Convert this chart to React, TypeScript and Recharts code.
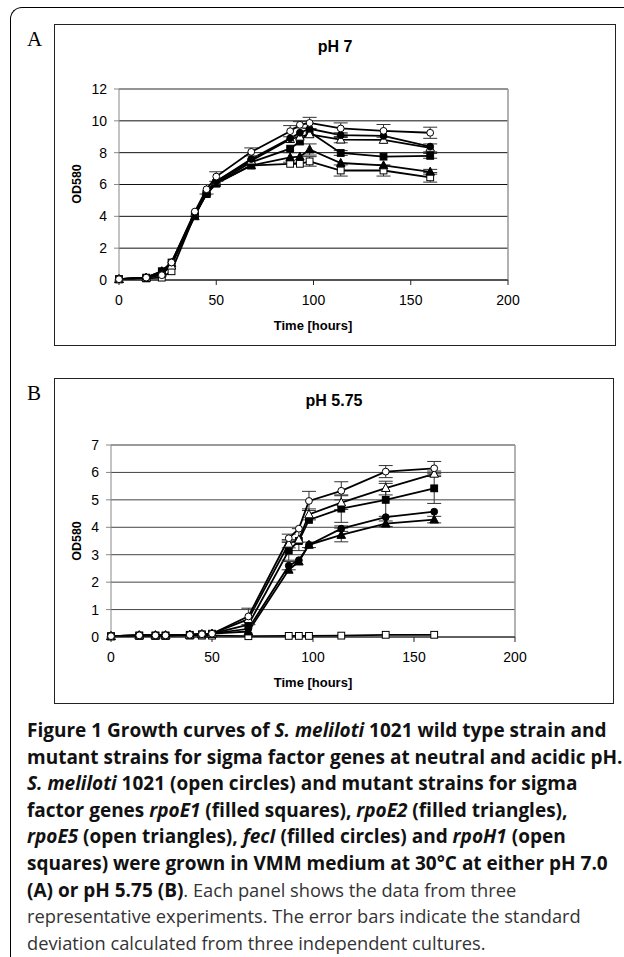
import React from 'react';
import { LineChart, Line, XAxis, YAxis, CartesianGrid, ErrorBar, ReferenceLine } from 'recharts';

const hours = [0, 14, 22, 27, 39, 45, 50, 68, 88, 93, 98, 114, 136, 160];
const xTicks = [0, 50, 100, 150, 200];

// pH 7 (panel A)
const wt7 = [0.05, 0.15, 0.3, 1.1, 4.3, 5.7, 6.5, 8.05, 9.35, 9.75, 9.87, 9.52, 9.37, 9.25];
const rpoE1_7 = [0.05, 0.15, 0.55, 1.1, 4.1, 5.4, 6.1, 7.4, 8.25, 8.7, 9.3, 7.98, 7.75, 7.8];
const rpoE2_7 = [0.05, 0.15, 0.55, 1.05, 4.0, 5.5, 6.1, 7.2, 7.7, 7.75, 8.2, 7.35, 7.2, 6.8];
const rpoE5_7 = [0.05, 0.15, 0.4, 0.9, 4.2, 5.6, 6.2, 7.5, 8.85, 9.0, 9.15, 8.82, 8.8, 8.3];
const fecI_7 = [0.05, 0.15, 0.55, 1.1, 4.2, 5.5, 6.2, 7.6, 8.9, 9.25, 9.5, 9.1, 9.05, 8.38];
const rpoH1_7 = [0.05, 0.1, 0.15, 0.55, 4.1, 5.4, 6.05, 7.2, 7.3, 7.3, 7.45, 6.88, 6.88, 6.45];

const wt7Err = [0, 0, 0, 0, 0, 0.3, 0.3, 0.25, 0.35, 0.2, 0.35, 0.35, 0.4, 0.35];
const rpoE1_7Err = [0, 0, 0, 0, 0, 0, 0, 0, 0, 0, 0, 0.15, 0, 0.15];
const rpoE2_7Err = [0, 0, 0, 0, 0, 0, 0, 0, 0.3, 0, 0.35, 0, 0, 0.15];
const rpoE5_7Err = [0, 0, 0, 0, 0, 0, 0, 0, 0, 0, 0, 0.2, 0, 0.25];
const fecI_7Err = [0, 0, 0, 0, 0, 0, 0, 0, 0, 0, 0, 0.15, 0, 0];
const rpoH1_7Err = [0, 0, 0, 0, 0, 0, 0, 0, 0, 0, 0.3, 0.35, 0.35, 0.3];

// pH 5.75 (panel B)
const wt5 = [0.03, 0.06, 0.06, 0.06, 0.08, 0.1, 0.12, 0.75, 3.6, 3.95, 4.96, 5.33, 6.03, 6.15];
const rpoE1_5 = [0.03, 0.06, 0.06, 0.06, 0.08, 0.1, 0.12, 0.45, 3.15, 3.5, 4.27, 4.68, 5.0, 5.42];
const rpoE2_5 = [0.03, 0.06, 0.06, 0.06, 0.08, 0.1, 0.12, 0.2, 2.45, 2.75, 3.36, 3.72, 4.13, 4.28];
const rpoE5_5 = [0.03, 0.06, 0.06, 0.06, 0.08, 0.1, 0.12, 0.65, 3.4, 3.55, 4.47, 4.9, 5.43, 5.95];
const fecI_5 = [0.03, 0.06, 0.06, 0.06, 0.08, 0.1, 0.12, 0.3, 2.6, 2.8, 3.36, 3.95, 4.37, 4.57];
const rpoH1_5 = [0.02, 0.04, 0.04, 0.04, 0.05, 0.05, 0.05, 0.03, 0.04, 0.04, 0.04, 0.05, 0.08, 0.08];

const wt5Err = [0, 0, 0, 0, 0, 0, 0, 0.3, 0.15, 0, 0.35, 0.33, 0.22, 0.25];
const rpoE1_5Err = [0, 0, 0, 0, 0, 0, 0, 0, 0.35, 0, 0, 0.5, 0.6, 0.55];
const rpoE2_5Err = [0, 0, 0, 0, 0, 0, 0, 0, 0, 0, 0, 0.25, 0.1, 0.12];
const rpoE5_5Err = [0, 0, 0, 0, 0, 0, 0, 0, 0.15, 0.4, 0.2, 0.25, 0.25, 0.1];
const fecI_5Err = [0, 0, 0, 0, 0, 0, 0, 0, 0.15, 0, 0.1, 0.1, 0, 0];
const rpoH1_5Err = [0, 0, 0, 0, 0, 0, 0, 0, 0, 0, 0, 0, 0, 0];

type Shape = 'circle' | 'square' | 'triangle';

const series: { key: string; shape: Shape; filled: boolean }[] = [
  { key: 'rpoH1', shape: 'square', filled: false },
  { key: 'rpoE2', shape: 'triangle', filled: true },
  { key: 'rpoE1', shape: 'square', filled: true },
  { key: 'rpoE5', shape: 'triangle', filled: false },
  { key: 'fecI', shape: 'circle', filled: true },
  { key: 'wt', shape: 'circle', filled: false },
];

const buildRows = (cols: Record<string, number[]>) =>
  hours.map((t, i) => {
    const row: Record<string, number> = { t };
    Object.keys(cols).forEach((k) => {
      row[k] = cols[k][i];
    });
    return row;
  });

const dataA = buildRows({
  wt: wt7, rpoE1: rpoE1_7, rpoE2: rpoE2_7, rpoE5: rpoE5_7, fecI: fecI_7, rpoH1: rpoH1_7,
  wtErr: wt7Err, rpoE1Err: rpoE1_7Err, rpoE2Err: rpoE2_7Err, rpoE5Err: rpoE5_7Err, fecIErr: fecI_7Err, rpoH1Err: rpoH1_7Err,
});

const dataB = buildRows({
  wt: wt5, rpoE1: rpoE1_5, rpoE2: rpoE2_5, rpoE5: rpoE5_5, fecI: fecI_5, rpoH1: rpoH1_5,
  wtErr: wt5Err, rpoE1Err: rpoE1_5Err, rpoE2Err: rpoE2_5Err, rpoE5Err: rpoE5_5Err, fecIErr: fecI_5Err, rpoH1Err: rpoH1_5Err,
});

const marker = (shape: Shape, filled: boolean, name: string) => (p: any) => {
  const { cx, cy, index } = p;
  const key = `${name}-${index}`;
  if (cx == null || cy == null) return <g key={key} />;
  const fill = filled ? '#000' : '#fff';
  if (shape === 'circle') {
    return <circle key={key} cx={cx} cy={cy} r={3.4} fill={fill} stroke="#000" strokeWidth={1} />;
  }
  if (shape === 'square') {
    return <rect key={key} x={cx - 3.4} y={cy - 3.4} width={6.8} height={6.8} fill={fill} stroke="#000" strokeWidth={1} />;
  }
  return (
    <polygon
      key={key}
      points={`${cx},${cy - 4.6} ${cx + 4.3},${cy + 3.4} ${cx - 4.3},${cy + 3.4}`}
      fill={fill}
      stroke="#000"
      strokeWidth={1}
    />
  );
};

const tickStyle = { fontFamily: 'Liberation Sans, Arial, sans-serif', fontSize: 14, fill: '#000' };
const boldLabel: React.CSSProperties = {
  position: 'absolute',
  fontFamily: 'Liberation Sans, Arial, sans-serif',
  fontWeight: 'bold',
  color: '#000',
  whiteSpace: 'nowrap',
};

interface PanelProps {
  letter: string;
  title: string;
  data: Record<string, number>[];
  yMax: number;
  yTicks: number[];
  box: { left: number; top: number; width: number; height: number };
  margin: { top: number; right: number; bottom: number; left: number };
  plot: { left: number; right: number; top: number; bottom: number };
  gridColor: string;
}

const Panel = ({ letter, title, data, yMax, yTicks, box, margin, plot, gridColor }: PanelProps) => {
  const cx = (plot.left + plot.right) / 2;
  const cy = (plot.top + plot.bottom) / 2;
  return (
    <>
      <div
        style={{
          position: 'absolute',
          left: 27,
          top: box.top + 3,
          fontFamily: 'Liberation Serif, Times New Roman, serif',
          fontSize: 21,
          lineHeight: '24px',
          color: '#000',
        }}
      >
        {letter}
      </div>
      <div
        style={{
          position: 'absolute',
          left: box.left,
          top: box.top,
          width: box.width,
          height: box.height,
          boxSizing: 'border-box',
          border: '1.5px solid #222',
        }}
      />
      <div style={{ position: 'absolute', left: box.left, top: box.top }}>
        <LineChart width={box.width} height={box.height} data={data} margin={margin}>
          <CartesianGrid vertical={false} stroke={gridColor} strokeOpacity={1} />
          <ReferenceLine y={yMax} stroke="#999" strokeWidth={1.5} />
          <ReferenceLine x={200} stroke="#999" strokeWidth={1.5} />
          <XAxis
            dataKey="t"
            type="number"
            domain={[0, 200]}
            ticks={xTicks}
            stroke="#222"
            tickSize={5}
            tickMargin={10}
            tick={tickStyle}
            height={30}
          />
          <YAxis
            type="number"
            domain={[0, yMax]}
            ticks={yTicks}
            stroke="#888"
            tickSize={5}
            tickMargin={7}
            tick={tickStyle}
            width={40}
            interval={0}
          />
          {series.map((s) => (
            <Line
              key={s.key}
              dataKey={s.key}
              type="linear"
              stroke="#000"
              strokeWidth={1.8}
              dot={marker(s.shape, s.filled, s.key)}
              activeDot={false}
              isAnimationActive={false}
            >
              <ErrorBar dataKey={`${s.key}Err`} direction="y" width={7} stroke="#333" strokeWidth={1} />
            </Line>
          ))}
        </LineChart>
      </div>
      <div
        style={{
          ...boldLabel,
          left: box.left,
          width: box.width,
          top: box.top + 14,
          textAlign: 'center',
          fontSize: 16,
          lineHeight: '18px',
        }}
      >
        {title}
      </div>
      <div
        style={{
          ...boldLabel,
          left: 77 - 30,
          top: cy - 8,
          width: 60,
          textAlign: 'center',
          fontSize: 12.5,
          lineHeight: '16px',
          transform: 'rotate(-90deg)',
        }}
      >
        OD580
      </div>
      <div
        style={{
          ...boldLabel,
          left: cx - 60,
          width: 120,
          top: plot.bottom + 39,
          textAlign: 'center',
          fontSize: 13,
          lineHeight: '16px',
        }}
      >
        Time [hours]
      </div>
    </>
  );
};

const bold: React.CSSProperties = { whiteSpace: 'nowrap', fontWeight: 'bold', fontSize: 19, color: '#111' };
const plain: React.CSSProperties = { whiteSpace: 'nowrap', fontWeight: 'normal', fontSize: 18.3, color: '#333' };

const App = () => {
  return (
    <div
      style={{
        position: 'absolute',
        left: 0,
        top: 0,
        width: 624,
        height: 957,
        overflow: 'hidden',
        background: '#fff',
      }}
    >
      <div
        style={{
          position: 'absolute',
          left: 10,
          top: 7,
          width: 700,
          height: 1000,
          borderTop: '1px solid #000',
          borderLeft: '1px solid #000',
          borderTopLeftRadius: 12,
        }}
      />
      <Panel
        letter="A"
        title="pH 7"
        data={dataA}
        yMax={12}
        yTicks={[0, 2, 4, 6, 8, 10, 12]}
        box={{ left: 54, top: 24, width: 562, height: 322 }}
        margin={{ top: 65, right: 108, bottom: 36, left: 25 }}
        plot={{ left: 119, right: 507, top: 89, bottom: 279 }}
        gridColor="#111"
      />
      <Panel
        letter="B"
        title="pH 5.75"
        data={dataB}
        yMax={7}
        yTicks={[0, 1, 2, 3, 4, 5, 6, 7]}
        box={{ left: 54, top: 378, width: 560, height: 326 }}
        margin={{ top: 67, right: 99, bottom: 37, left: 17 }}
        plot={{ left: 111, right: 515, top: 445, bottom: 636 }}
        gridColor="#444"
      />
      <div
        style={{
          position: 'absolute',
          left: 27,
          top: 717,
          fontFamily: '"Open Sans", sans-serif',
          lineHeight: '26.6px',
        }}
      >
        <div style={bold}>
          Figure 1 Growth curves of <i>S. meliloti</i> 1021 wild type strain and
        </div>
        <div style={bold}>mutant strains for sigma factor genes at neutral and acidic pH.</div>
        <div style={bold}>
          <i>S. meliloti</i> 1021 (open circles) and mutant strains for sigma
        </div>
        <div style={bold}>
          factor genes <i>rpoE1</i> (filled squares), <i>rpoE2</i> (filled triangles),
        </div>
        <div style={bold}>
          <i>rpoE5</i> (open triangles), <i>fecI</i> (filled circles) and <i>rpoH1</i> (open
        </div>
        <div style={bold}>squares) were grown in VMM medium at 30°C at either pH 7.0</div>
        <div style={plain}>
          <b style={{ fontSize: 19, color: '#111' }}>(A) or pH 5.75 (B)</b>. Each panel shows the data from three
        </div>
        <div style={plain}>representative experiments. The error bars indicate the standard</div>
        <div style={plain}>deviation calculated from three independent cultures.</div>
      </div>
    </div>
  );
};

export default App;
